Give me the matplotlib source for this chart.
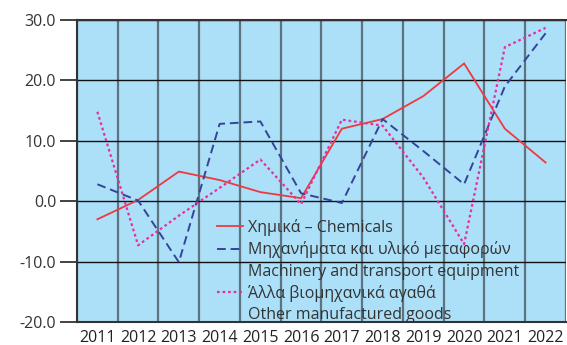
import matplotlib
matplotlib.use("Agg")
import matplotlib.pyplot as plt
from matplotlib.lines import Line2D

plt.rcParams['font.family'] = ['Open Sans', 'DejaVu Sans']

years = ["2011", "2012", "2013", "2014", "2015", "2016",
         "2017", "2018", "2019", "2020", "2021", "2022"]

# annual % change by product group
chemicals = [-3.0, 0.2, 4.9, 3.5, 1.5, 0.5, 12.0, 13.6, 17.4, 22.8, 12.0, 6.4]
machinery = [2.8, 0.1, -10.1, 12.8, 13.2, 1.3, -0.3, 13.6, 8.3, 2.8, 19.0, 27.8]
other_goods = [14.8, -7.3, -2.4, 2.2, 6.9, -0.5, 13.5, 12.5, 3.9, -7.1, 25.5, 28.7]

legend_lines = ["Χημικά – Chemicals",
                "Μηχανήματα και υλικό μεταφορών",
                "Machinery and transport equipment",
                "Άλλα βιομηχανικά αγαθά",
                "Other manufactured goods"]

yticks = [-20, -10, 0, 10, 20, 30]

red = "#EE3A3F"
blue = "#34449A"
pink = "#E62E9E"

fig = plt.figure(figsize=(5.67, 3.45), dpi=100)
ax = fig.add_axes([0.1358, 0.0667, 0.8624, 0.8754])
ax.set_facecolor("#ACDFF8")

x = list(range(len(years)))
ax.plot(x, chemicals, color=red, lw=1.3, solid_joinstyle="miter")
ax.plot(x, machinery, color=blue, lw=1.4, linestyle=(0, (4.5, 2.5)))
ax.plot(x, other_goods, color=pink, lw=1.6, linestyle=(0, (1.2, 1.3)))

ax.set_xlim(-0.5, len(years) - 0.5)
ax.set_ylim(-20, 30)

# category boundaries as vertical grid
for b in range(len(years) + 1):
    ax.axvline(b - 0.5, color="#4a5a62", lw=1.6, alpha=0.8, zorder=0.5)
for v in yticks:
    ax.axhline(v, color="#111111", lw=1.0, zorder=0.6)

ax.set_xticks(x)
ax.set_xticklabels(years)
ax.set_yticks(yticks)
ax.set_yticklabels([f"{v:.1f}" for v in yticks])
ax.tick_params(axis="x", length=0, pad=6, labelsize=11.5, labelcolor="#222222")
ax.tick_params(axis="y", length=12, width=1.2, pad=3, labelsize=11.5,
               labelcolor="#333333", color="#222222")

for side in ["top", "left", "bottom"]:
    ax.spines[side].set_color("#333333")
    ax.spines[side].set_linewidth(1.5)
ax.spines["right"].set_visible(False)

blank = Line2D([], [], linestyle="none")
handles = [Line2D([], [], color=red, lw=1.3),
           Line2D([], [], color=blue, lw=1.4, linestyle=(0, (4.5, 2.5))),
           blank,
           Line2D([], [], color=pink, lw=1.6, linestyle=(0, (1.2, 1.3))),
           blank]
ax.legend(handles, legend_lines, loc="upper left",
          bbox_to_anchor=(217 / 567, 1 - 219 / 345),
          bbox_transform=fig.transFigure, frameon=False,
          handlelength=1.65, handletextpad=0.3, labelspacing=0.33,
          borderpad=0, borderaxespad=0, fontsize=11.5,
          labelcolor="#333333")

fig.savefig("out.png", dpi=100)
